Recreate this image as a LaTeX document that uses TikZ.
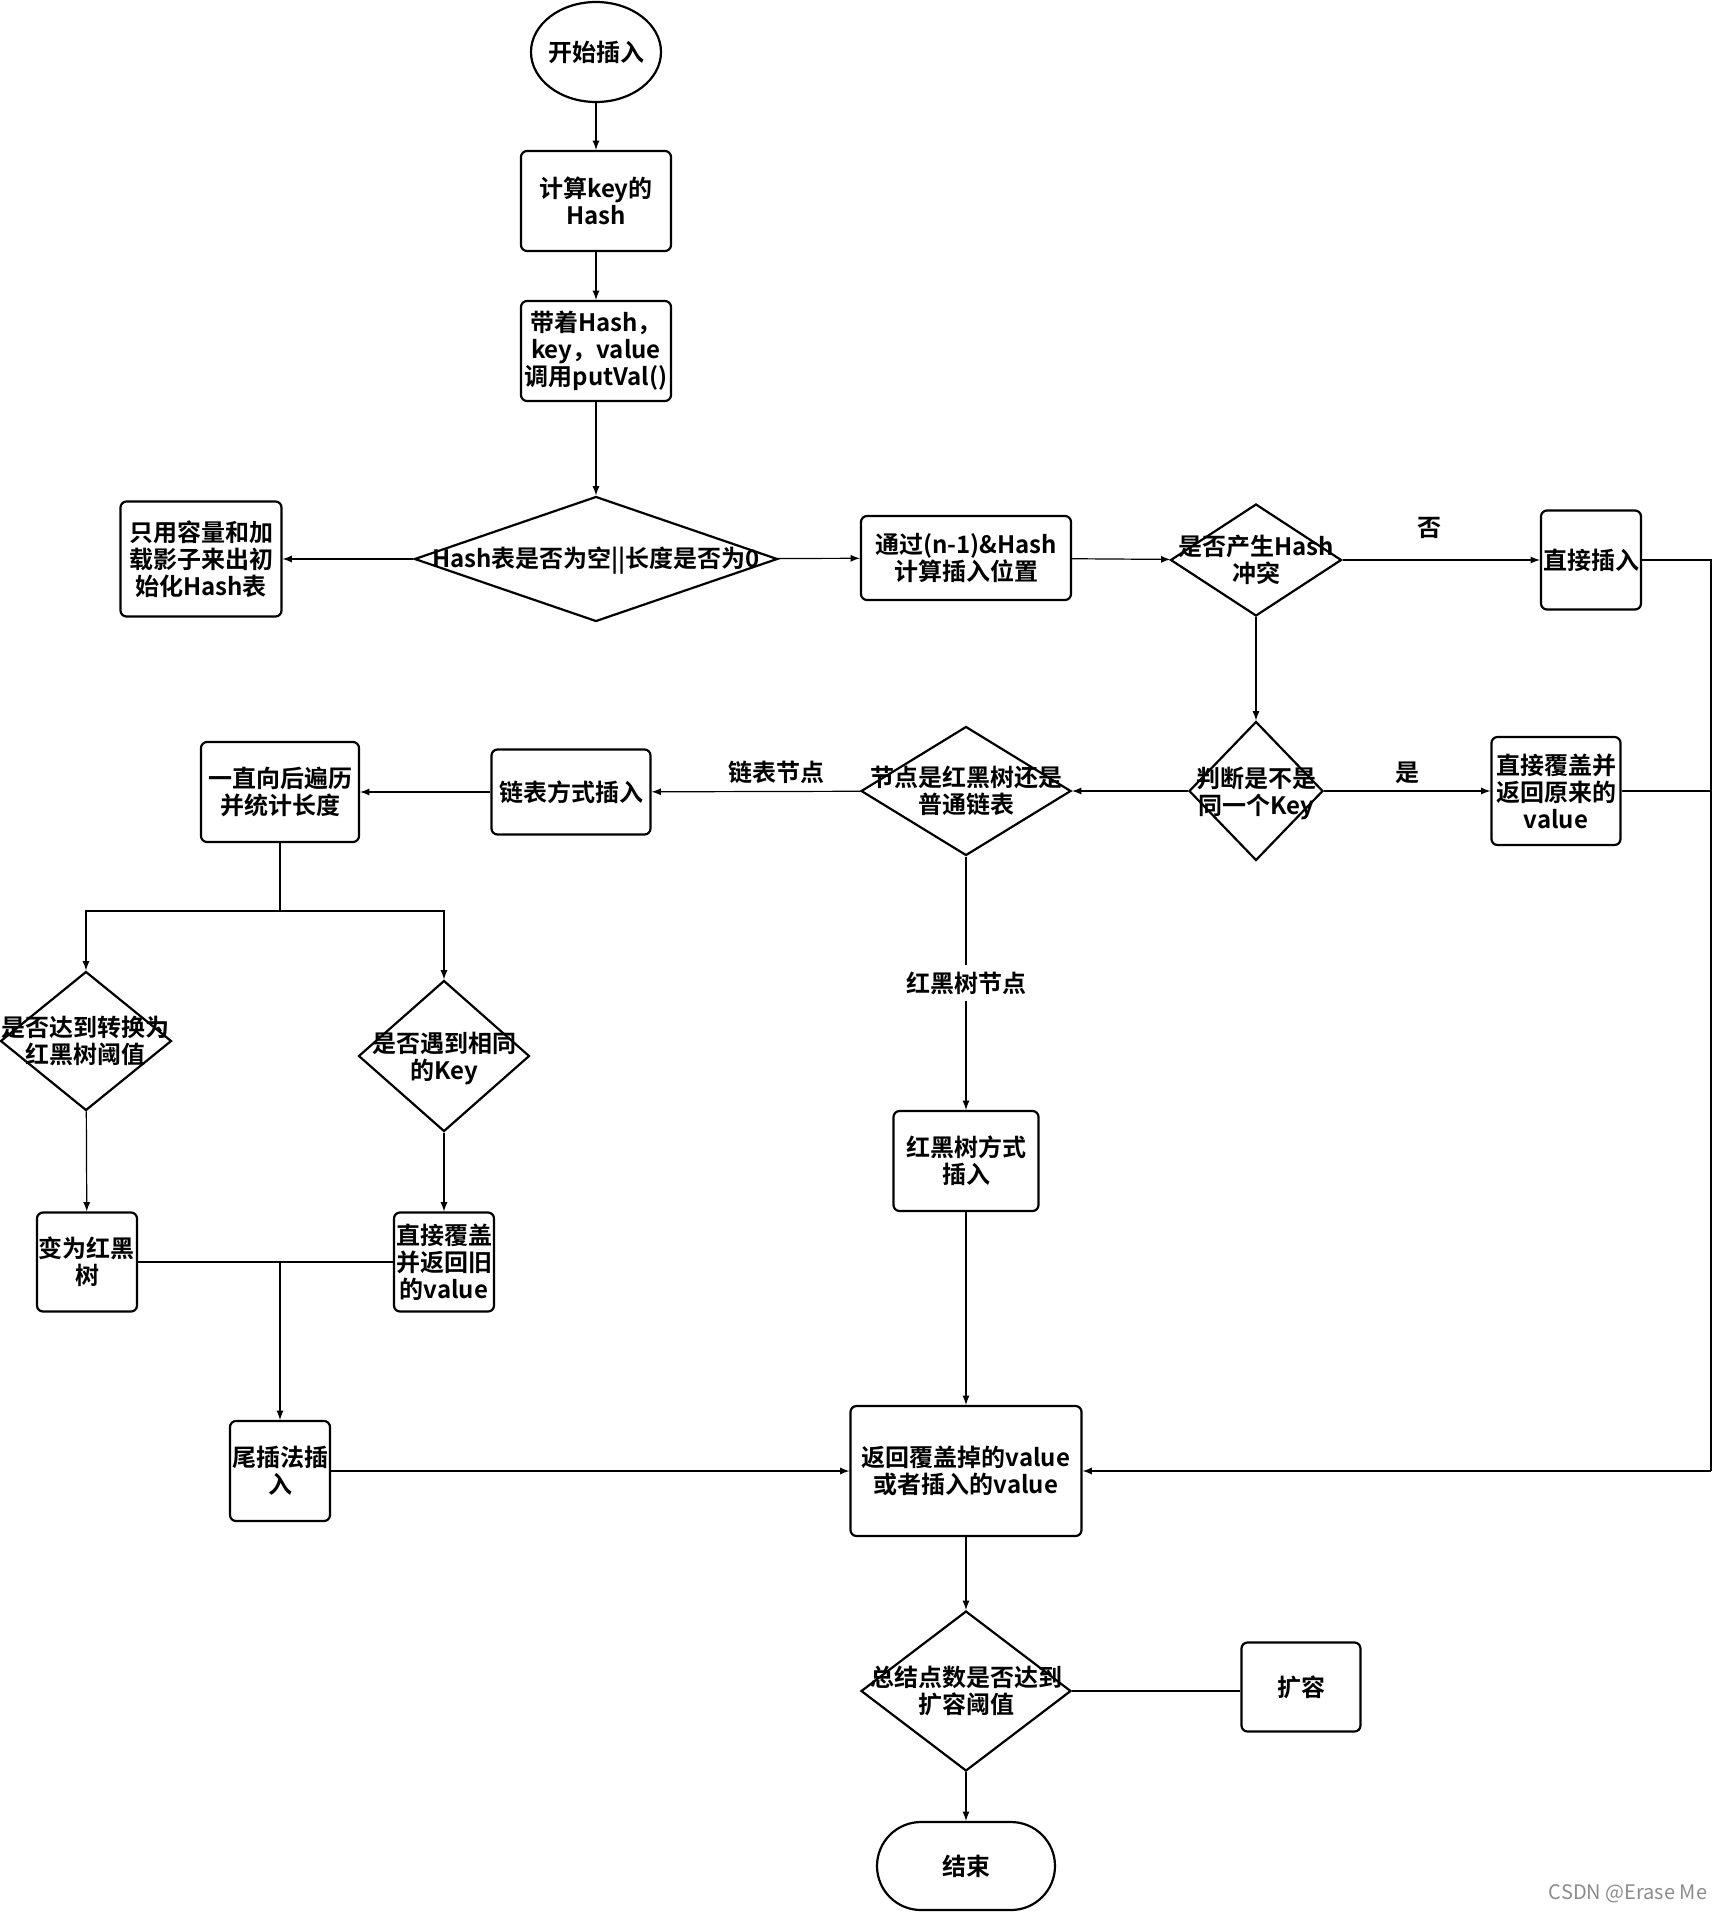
\documentclass[tikz,border=0pt]{standalone}
\usepackage{fontspec}
\setmainfont{Noto Sans CJK SC}[BoldFont={Noto Sans CJK SC Bold}]
\usetikzlibrary{shapes.geometric}

\begin{document}
\begin{tikzpicture}[x=0.5pt, y=-0.5pt,
    txt/.style={font=\bfseries\fontsize{12}{13.5}\selectfont, align=center},
    box/.style={txt, draw, rounded corners=3pt, line width=1.1pt, inner sep=1pt},
    decision/.style={diamond, draw, line width=1.1pt, inner sep=0pt},
    arr/.style={-latex, line width=0.6pt},
    line/.style={line width=0.6pt}]
    \useasboundingbox (0,0) rectangle (1721,1912);
    % main column
    \node[txt, ellipse, draw, line width=1.1pt, inner sep=-8pt, minimum width=65pt, minimum height=50pt] (start) at (596,52) {开始插入};
    \node[box, minimum width=75pt, minimum height=50pt] (hashk) at (596,201) {计算key的\\Hash};
    \node[box, minimum width=75pt, minimum height=50pt] (putval) at (596,351) {带着Hash，\\key，value\\调用putVal()};
    \node[decision, minimum width=181.5pt, minimum height=62.5pt, label={[txt, yshift=-1pt]center:{Hash表是否为空||长度是否为0}}] (emptyq) at (596,559) {};
    \node[box, minimum width=80.5pt, minimum height=57.5pt] (init) at (201,559) {只用容量和加\\载影子来出初\\始化Hash表};
    \node[box, minimum width=105pt, minimum height=42pt] (index) at (966,558) {通过(n-1)\&Hash\\计算插入位置};
    \node[decision, minimum width=85.5pt, minimum height=56pt, label={[txt]center:{是否产生Hash\\冲突}}] (collq) at (1256,560) {};
    \node[box, minimum width=49.5pt, minimum height=49.5pt] (direct) at (1591,560) {直接插入};
    \node[decision, minimum width=67pt, minimum height=69.5pt, label={[txt, yshift=-1pt]center:{判断是不是\\同一个Key}}] (sameq) at (1256,791) {};
    \node[box, minimum width=64.5pt, minimum height=54pt] (cover) at (1556,791) {直接覆盖并\\返回原来的\\value};
    \node[decision, minimum width=105pt, minimum height=64.5pt, label={[txt]center:{节点是红黑树还是\\普通链表}}] (kindq) at (966,791) {};
    % linked list branch
    \node[box, minimum width=79.5pt, minimum height=42.5pt] (listins) at (571,792) {链表方式插入};
    \node[box, minimum width=79pt, minimum height=50pt] (walk) at (280,792) {一直向后遍历\\并统计长度};
    \node[decision, minimum width=85.5pt, minimum height=69.5pt, label={[txt]center:{是否达到转换为\\红黑树阈值}}] (treeq) at (86,1041) {};
    \node[decision, minimum width=85.5pt, minimum height=75.5pt, label={[txt, yshift=-1pt]center:{是否遇到相同\\的Key}}] (keyq) at (444,1056) {};
    \node[box, minimum width=50pt, minimum height=49.5pt] (tobt) at (87,1262) {变为红黑\\树};
    \node[box, minimum width=50pt, minimum height=49.5pt] (oldv) at (444,1262) {直接覆盖\\并返回旧\\的value};
    \node[box, minimum width=49.5pt, minimum height=50pt] (tail) at (280,1471) {尾插法插\\入};
    % tree branch and end
    \node[box, minimum width=72.5pt, minimum height=50pt] (rbins) at (966,1161) {红黑树方式\\插入};
    \node[box, minimum width=115.5pt, minimum height=65pt] (result) at (966,1471) {返回覆盖掉的value\\或者插入的value};
    \node[decision, minimum width=105pt, minimum height=80pt, label={[txt]center:{总结点数是否达到\\扩容阈值}}] (sizeq) at (966,1691) {};
    \node[box, minimum width=59.5pt, minimum height=44.5pt] (resize) at (1301,1687) {扩容};
    \node[txt, draw, line width=1.1pt, rounded corners=22pt, minimum width=89pt, minimum height=44pt] (finish) at (966,1866) {结束};
    \node[font=\fontsize{10}{12}\selectfont, text=black!45] (mark) at (1628,1894) {CSDN @Erase Me};

    \coordinate (split) at (280,911);
    \coordinate (merge) at (280,1262);
    \coordinate (rtop) at (1711,560);
    \coordinate (rmid) at (1711,791);
    \coordinate (rbot) at (1711,1471);

    \draw[arr] (start) -- (hashk);
    \draw[arr] (hashk) -- (putval);
    \draw[arr] (putval) -- (emptyq);
    \draw[arr] (emptyq) -- (init);
    \draw[arr] (emptyq) -- (index);
    \draw[arr] (index) -- (collq);
    \draw[arr] (collq) -- node[txt, above=7pt, pos=0.44] (nolbl) {否} (direct);
    \draw[arr] (collq) -- (sameq);
    \draw[arr] (sameq) -- node[txt, above=0pt] (yeslbl) {是} (cover);
    \draw[arr] (sameq) -- (kindq);
    \draw[arr] (kindq) -- node[txt, above=0.5pt, pos=0.4] (listlbl) {链表节点} (listins);
    \draw[arr] (listins) -- (walk);
    \draw[line] (walk) -- (split);
    \draw[arr] (split) -| (treeq);
    \draw[arr] (split) -| (keyq);
    \draw[arr] (treeq) -- (tobt);
    \draw[arr] (keyq) -- (oldv);
    \draw[line] (tobt) -- (oldv);
    \draw[arr] (merge) -- (tail);
    \draw[arr] (tail) -- (result);
    \draw[arr] (kindq) -- node[txt, fill=white] (treelbl) {红黑树节点} (rbins);
    \draw[arr] (rbins) -- (result);
    \draw[line] (direct) -- (rtop) -- (rbot);
    \draw[line] (cover) -- (rmid);
    \draw[arr] (rbot) -- (result);
    \draw[arr] (result) -- (sizeq);
    \draw[line] (sizeq.east) -- (sizeq.east -| resize.west);
    \draw[arr] (sizeq) -- (finish);
\end{tikzpicture}
\end{document}
